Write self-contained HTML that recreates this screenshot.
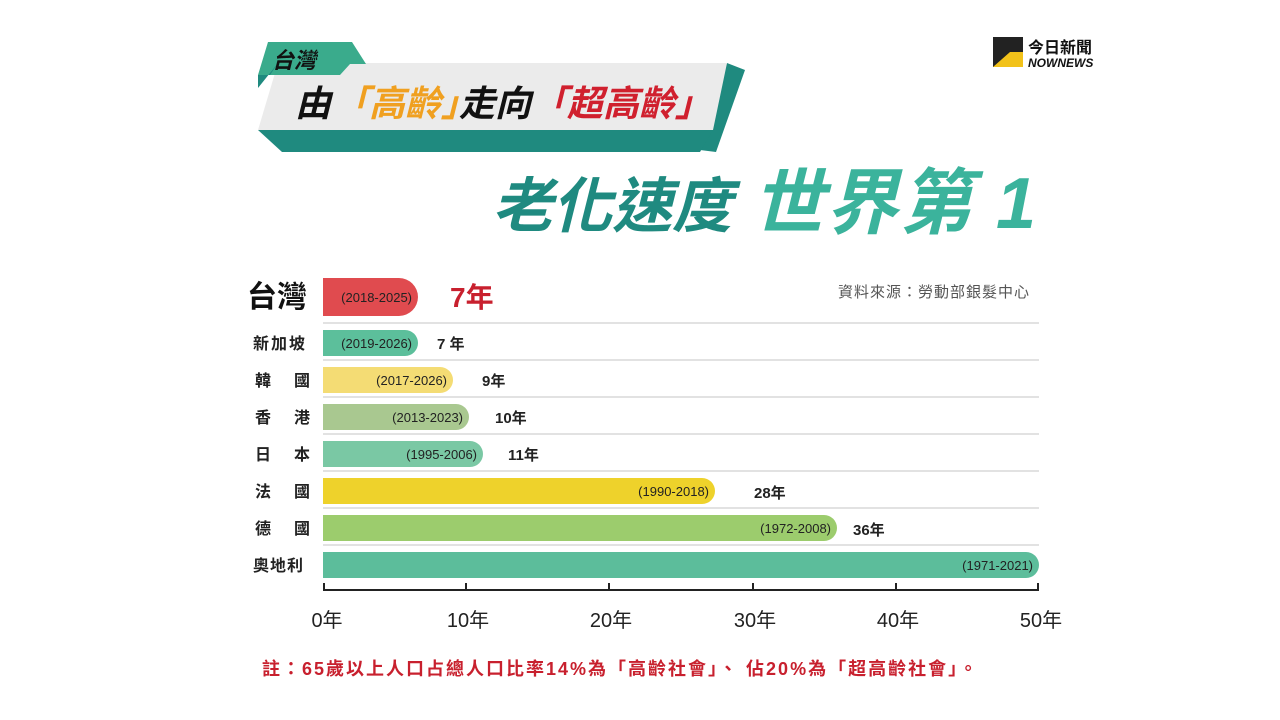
<!DOCTYPE html>
<html><head><meta charset="utf-8"><style>
html,body{margin:0;padding:0;background:#fff;}
svg{display:block;font-family:"Liberation Sans","Noto Sans CJK TC",sans-serif;}
</style></head><body>
<svg width="1280" height="720" viewBox="0 0 1280 720" xmlns="http://www.w3.org/2000/svg">
<rect width="1280" height="720" fill="#fff"/>
<polygon points="727,63 745,70 716,152 700,150" fill="#1f8a7f"/>
<polygon points="258,130 713,130 700,152 282,152" fill="#1f8a7f"/>
<polygon points="278,63 727,63 713,130 258,130" fill="#ebebeb"/>
<polygon points="268,42 352,42 366,64 350,64 340,75 258,75" fill="#3aab8c"/>
<polygon points="258,75 270,75 278,63 258,88" fill="#1f8a7f"/>
<text x="272" y="68" font-size="22" font-weight="bold" font-style="italic" fill="#111">台灣</text>
<g font-size="36" font-weight="bold" font-style="italic">
<text x="295" y="116" fill="#111">由</text>
<text x="333" y="116" fill="#f0a020">「高齡」</text>
<text x="459" y="116" fill="#111">走向</text>
<text x="531" y="116" fill="#d0202e">「超高齡」</text>
</g>
<text x="492" y="227" font-size="60" font-weight="bold" font-style="italic" fill="#1f8a80">老化速度</text>
<text x="752" y="228" font-size="72" font-weight="bold" font-style="italic" fill="#3bb39c" letter-spacing="2">世界第 1</text>
<rect x="993" y="37" width="30" height="30" fill="#222"/>
<polygon points="993,67 1010,52 1023,52 1023,67" fill="#f2c21a"/>
<text x="1028" y="53" font-size="16" font-weight="bold" fill="#111">今日新聞</text>
<text x="1028" y="67" font-size="12" font-weight="bold" fill="#111" font-style="italic">NOWNEWS</text>
<text x="838" y="297" font-size="15" fill="#555" letter-spacing="1">資料來源：勞動部銀髮中心</text>
<g stroke="#e2e2e2" stroke-width="2">
<line x1="323" y1="323" x2="1039" y2="323"/><line x1="323" y1="360" x2="1039" y2="360"/>
<line x1="323" y1="397" x2="1039" y2="397"/><line x1="323" y1="434" x2="1039" y2="434"/>
<line x1="323" y1="471" x2="1039" y2="471"/><line x1="323" y1="508" x2="1039" y2="508"/>
<line x1="323" y1="545" x2="1039" y2="545"/>
</g>
<path d="M323,278 H399 A19,19 0 0 1 399,316 H323 Z" fill="#e04b4f"/>
<path d="M323,330 H405 A13,13 0 0 1 405,356 H323 Z" fill="#5cbf9b"/>
<path d="M323,367 H440 A13,13 0 0 1 440,393 H323 Z" fill="#f4dc74"/>
<path d="M323,404 H456 A13,13 0 0 1 456,430 H323 Z" fill="#a9c890"/>
<path d="M323,441 H470 A13,13 0 0 1 470,467 H323 Z" fill="#7ac8a4"/>
<path d="M323,478 H702 A13,13 0 0 1 702,504 H323 Z" fill="#eed22b"/>
<path d="M323,515 H824 A13,13 0 0 1 824,541 H323 Z" fill="#9ccc6d"/>
<path d="M323,552 H1026 A13,13 0 0 1 1026,578 H323 Z" fill="#5cbd9b"/>
<g font-size="13" fill="#222" text-anchor="end">
<text x="412" y="302">(2018-2025)</text>
<text x="412" y="348">(2019-2026)</text>
<text x="447" y="385">(2017-2026)</text>
<text x="463" y="422">(2013-2023)</text>
<text x="477" y="459">(1995-2006)</text>
<text x="709" y="496">(1990-2018)</text>
<text x="831" y="533">(1972-2008)</text>
<text x="1033" y="570">(1971-2021)</text>
</g>
<text x="247" y="307" font-size="30" font-weight="bold" fill="#111">台灣</text>
<g font-size="16" font-weight="bold" fill="#222">
<text x="253" y="349" letter-spacing="2">新加坡</text>
<text x="255" y="386">韓</text><text x="294" y="386">國</text>
<text x="255" y="423">香</text><text x="294" y="423">港</text>
<text x="255" y="460">日</text><text x="294" y="460">本</text>
<text x="255" y="497">法</text><text x="294" y="497">國</text>
<text x="255" y="534">德</text><text x="294" y="534">國</text>
<text x="253" y="571" letter-spacing="1">奧地利</text>
</g>
<text x="450" y="307" font-size="28" font-weight="bold" fill="#c8202e">7年</text>
<g font-size="15" font-weight="bold" fill="#222">
<text x="437" y="349">7 年</text>
<text x="482" y="386">9年</text>
<text x="495" y="423">10年</text>
<text x="508" y="460">11年</text>
<text x="754" y="498">28年</text>
<text x="853" y="535">36年</text>
</g>
<g stroke="#222" stroke-width="2">
<line x1="323" y1="590" x2="1039" y2="590"/>
<line x1="324" y1="583" x2="324" y2="591"/><line x1="466" y1="583" x2="466" y2="591"/>
<line x1="609" y1="583" x2="609" y2="591"/><line x1="753" y1="583" x2="753" y2="591"/>
<line x1="896" y1="583" x2="896" y2="591"/><line x1="1038" y1="583" x2="1038" y2="591"/>
</g>
<g font-size="20" fill="#222" text-anchor="middle">
<text x="327" y="627">0年</text><text x="468" y="627">10年</text><text x="611" y="627">20年</text>
<text x="755" y="627">30年</text><text x="898" y="627">40年</text><text x="1041" y="627">50年</text>
</g>
<text x="262" y="675" font-size="18" font-weight="bold" fill="#c8202e" letter-spacing="2">註：65歲以上人口占總人口比率14%為「高齡社會」、 佔20%為「超高齡社會」。</text>
</svg>
</body></html>
